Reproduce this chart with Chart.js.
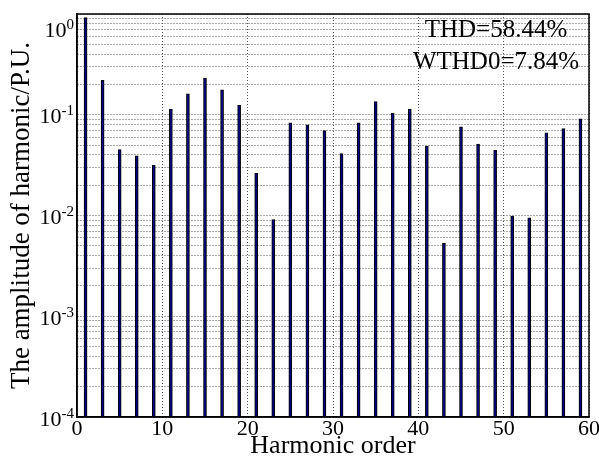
<!DOCTYPE html>
<html>
<head>
<meta charset="utf-8">
<script src="https://cdn.jsdelivr.net/npm/chart.js@4.4.1/dist/chart.umd.min.js"></script>
<style>
  html, body { margin: 0; padding: 0; background: #fff; }
  #wrap { width: 599px; height: 459px; }
</style>
</head>
<body>
<div id="wrap"><canvas id="chart-harmonics"></canvas></div>
<script>
// harmonic orders (odd only) and their amplitudes in per-unit
const orders = [1, 3, 5, 7, 9, 11, 13, 15, 17, 19, 21, 23, 25, 27, 29,
  31, 33, 35, 37, 39, 41, 43, 45, 47, 49, 51, 53, 55, 57, 59];
const amplitudes = [0.92, 0.22, 0.045, 0.039, 0.0315, 0.114, 0.161, 0.231, 0.177, 0.124,
  0.0262, 0.0091, 0.083, 0.0796, 0.0695, 0.0411, 0.083, 0.1355, 0.104, 0.114,
  0.049, 0.0053, 0.076, 0.0513, 0.0443, 0.00985, 0.0095, 0.0663, 0.0727, 0.0913];
const xTicks = [0, 10, 20, 30, 40, 50, 60];
const yDecades = [-4, -3, -2, -1, 0];
const notes = ["THD=58.44%", "WTHD0=7.84%"];

const serif = "'Liberation Serif', 'Times New Roman', serif";
Chart.defaults.font.family = serif;
Chart.defaults.color = "#000";

// log grid: 1..9 x 10^k
const logTicks = [];
yDecades.forEach((e) => {
  if (e === 0) { logTicks.push(1); return; }
  for (let m = 1; m <= 9; m++) logTicks.push(m * Math.pow(10, e));
});

const frameAndLabels = {
  id: "frameAndLabels",
  afterDraw(chart) {
    const { ctx, chartArea: a, scales } = chart;
    const ys = scales.y, xs = scales.x;
    ctx.save();
    // closed box
    ctx.strokeStyle = "#000";
    ctx.lineWidth = 1.5;
    ctx.strokeRect(a.left, a.top, a.right - a.left, a.bottom - a.top);

    // y tick labels 10^n
    ctx.fillStyle = "#000";
    ctx.textBaseline = "alphabetic";
    yDecades.forEach((e) => {
      let y = ys.getPixelForValue(Math.pow(10, e)) + 1;
      if (y < a.top + 14) y = a.top + 15;
      const base = y + 7.5;
      const exp = String(e);
      ctx.font = "15px " + serif;
      const ew = ctx.measureText(exp).width;
      ctx.font = "22px " + serif;
      const bw = ctx.measureText("10").width;
      const right = a.left - 3;
      ctx.textAlign = "left";
      ctx.fillText("10", right - ew - bw, base);
      ctx.font = "15px " + serif;
      ctx.fillText(exp, right - ew, base - 8);
    });

    // THD annotations
    ctx.font = "25px " + serif;
    ctx.textAlign = "center";
    const nx = xs.getPixelForValue(49.1);
    ctx.fillText(notes[0], nx, ys.getPixelForValue(0.59));
    ctx.fillText(notes[1], nx, ys.getPixelForValue(0.285));
    ctx.restore();
  },
};

new Chart(document.getElementById("chart-harmonics"), {
  type: "bar",
  data: {
    datasets: [
      {
        data: orders.map((o, i) => ({ x: o, y: amplitudes[i] })),
        backgroundColor: "#000080",
        borderColor: "#000",
        borderWidth: 1,
        barThickness: 3,
        borderSkipped: "bottom",
      },
    ],
  },
  options: {
    responsive: true,
    maintainAspectRatio: false,
    animation: false,
    layout: { padding: { top: 14, right: 10, left: 0, bottom: 0 } },
    plugins: { legend: { display: false }, tooltip: { enabled: false } },
    scales: {
      x: {
        type: "linear",
        min: 0,
        max: 60,
        offset: false,
        afterBuildTicks: (s) => { s.ticks = xTicks.map((v) => ({ value: v })); },
        afterFit: (s) => { s.height = 42; s.paddingLeft = 0; s.paddingRight = 0; },
        ticks: { font: { size: 22, lineHeight: 1 }, padding: 1, maxRotation: 0, autoSkip: false },
        grid: { color: "#555", lineWidth: 1, drawTicks: false, offset: false },
        border: { display: true, color: "#000", width: 1.5, dash: [1, 2] },
        title: {
          display: true,
          text: "Harmonic order",
          font: { size: 26, lineHeight: 1 },
          padding: 0,
        },
      },
      y: {
        type: "logarithmic",
        min: 1e-4,
        max: 1,
        afterBuildTicks: (s) => { s.ticks = logTicks.map((v) => ({ value: v })); },
        afterFit: (s) => { s.width = 77; s.paddingTop = 0; s.paddingBottom = 0; },
        ticks: { callback: () => "", autoSkip: false },
        grid: { color: "#555", lineWidth: 1, drawTicks: false },
        border: { display: true, color: "#000", width: 1.5, dash: [1, 2] },
        title: {
          display: true,
          text: "The amplitude of harmonic/P.U.",
          font: { size: 27, lineHeight: 1 },
          padding: { top: 8, bottom: 0 },
        },
      },
    },
  },
  plugins: [frameAndLabels],
});
</script>
</body>
</html>
